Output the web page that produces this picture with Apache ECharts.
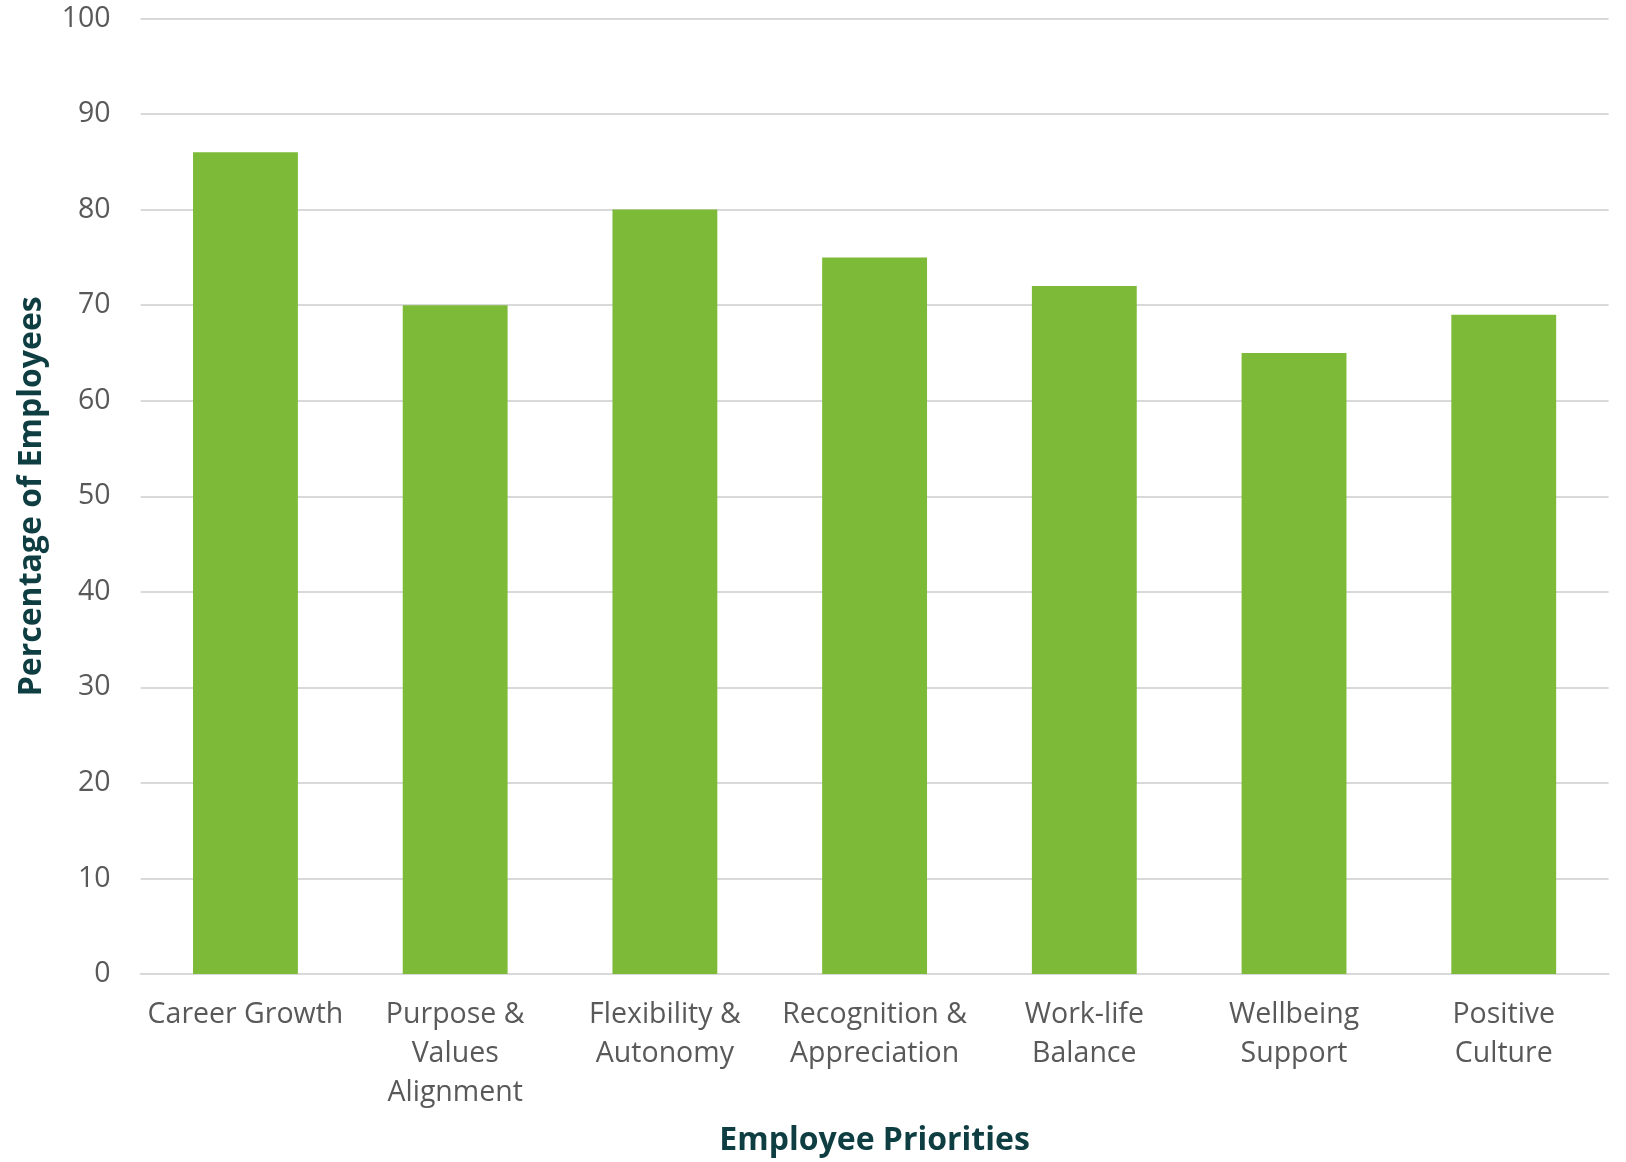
<!DOCTYPE html>
<html>
<head>
<meta charset="utf-8">
<script src="https://cdn.jsdelivr.net/npm/echarts@6/dist/echarts.min.js"></script>
<style>
  html, body { margin: 0; padding: 0; background: #ffffff; overflow: hidden; }
  #chart { width: 1626px; height: 1162px; }
</style>
</head>
<body>
<div id="chart"></div>
<script>
// Survey results: share of employees naming each priority
const categories = [
  'Career Growth',
  'Purpose &\nValues\nAlignment',
  'Flexibility &\nAutonomy',
  'Recognition &\nAppreciation',
  'Work-life\nBalance',
  'Wellbeing\nSupport',
  'Positive\nCulture'
];
const percentages = [86, 70, 80, 75, 72, 65, 69];
const yTicks = { min: 0, max: 100, interval: 10 };

const labelFont = '"Open Sans", "Liberation Sans", Arial, sans-serif';
const titleColor = '#0E3D42';

const chart = echarts.init(document.getElementById('chart'));
chart.setOption({
  animation: false,
  backgroundColor: '#ffffff',
  grid: { left: 140.6, top: 18.5, width: 1468, height: 959.8, containLabel: false },
  xAxis: {
    type: 'category',
    data: categories,
    name: 'Employee Priorities',
    nameLocation: 'middle',
    nameGap: 151,
    nameTextStyle: { fontFamily: labelFont, fontSize: 32, fontWeight: 'bold', color: titleColor },
    axisLine: { show: true, lineStyle: { color: '#D9D9D9', width: 2 } },
    axisTick: { show: false },
    axisLabel: {
      interval: 0,
      margin: 21,
      fontFamily: labelFont,
      fontSize: 28.5,
      lineHeight: 39,
      color: '#595959',
      align: 'center'
    }
  },
  yAxis: {
    type: 'value',
    min: yTicks.min,
    max: yTicks.max,
    interval: yTicks.interval,
    name: 'Percentage of Employees',
    nameLocation: 'middle',
    nameGap: 93,
    nameTextStyle: { fontFamily: labelFont, fontSize: 32, fontWeight: 'bold', color: titleColor },
    axisLine: { show: false },
    axisTick: { show: false },
    axisLabel: { margin: 30, fontFamily: labelFont, fontSize: 28.5, color: '#595959' },
    splitLine: { show: true, lineStyle: { color: '#D9D9D9', width: 2 } }
  },
  series: [{
    type: 'bar',
    data: percentages,
    barWidth: '50%',
    itemStyle: { color: '#7CBA38' }
  }]
});
</script>
</body>
</html>
